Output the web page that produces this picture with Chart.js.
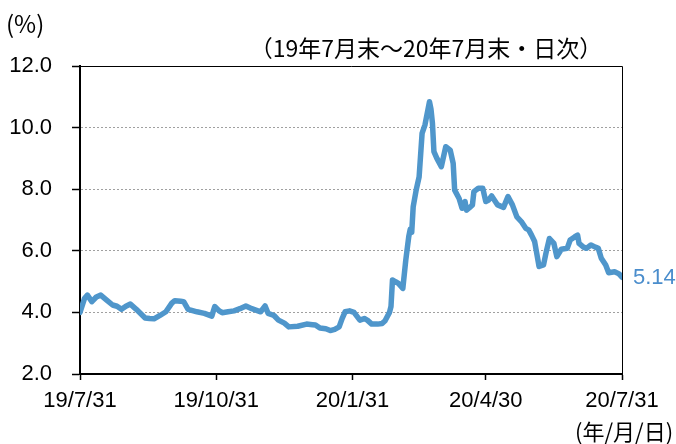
<!DOCTYPE html>
<html>
<head>
<meta charset="utf-8">
<script src="https://cdn.jsdelivr.net/npm/chart.js@4.4.0/dist/chart.umd.min.js"></script>
<style>
html, body { margin: 0; padding: 0; background: #fff; }
#wrap { width: 676px; height: 444px; }
</style>
</head>
<body>
<div id="wrap"><canvas id="yield"></canvas></div>
<script>
// days since 2019/7/31 and the value (%)
var days = [0, 3, 5, 8, 11, 14, 18, 22, 25, 28, 31, 34, 38, 44, 47, 50, 54, 58, 62, 64,
    68, 70, 73, 79, 84, 89, 91, 94, 96, 100, 104, 108, 112, 116, 122, 125, 127, 131, 134, 138,
    141, 147, 153, 157, 159, 162, 166, 169, 172, 175, 177, 179, 182, 185, 189, 192, 194, 197, 201, 204,
    206, 209, 210, 211, 213, 215, 218, 220, 222, 223, 224, 225, 227, 229, 231, 233, 236, 237, 238, 239,
    241, 244, 247, 250, 252, 253, 256, 258, 260, 261, 263, 265, 266, 269, 272, 274, 276, 278, 282, 286,
    289, 292, 295, 298, 301, 303, 305, 307, 308, 310, 313, 315, 317, 320, 322, 325, 329, 331, 334, 336,
    337, 340, 342, 345, 348, 350, 352, 355, 357, 361, 364, 366];
var values = [4.0, 4.45, 4.56, 4.35, 4.5, 4.56, 4.4, 4.24, 4.2, 4.1, 4.2, 4.27, 4.1, 3.82, 3.8, 3.79, 3.9, 4.02, 4.3, 4.38,
    4.36, 4.35, 4.1, 4.02, 3.97, 3.88, 4.19, 4.05, 3.99, 4.02, 4.05, 4.12, 4.21, 4.12, 4.02, 4.21, 3.97, 3.9, 3.75, 3.65,
    3.53, 3.55, 3.62, 3.6, 3.59, 3.49, 3.47, 3.41, 3.45, 3.53, 3.8, 4.02, 4.05, 4.0, 3.75, 3.8, 3.75, 3.62, 3.62, 3.64,
    3.73, 4.0, 4.19, 5.05, 5.0, 4.94, 4.78, 5.7, 6.46, 6.7, 6.6, 7.43, 7.97, 8.4, 9.81, 10.1, 10.84, 10.6, 10.14, 9.22,
    9.0, 8.73, 9.38, 9.27, 8.84, 7.97, 7.7, 7.38, 7.6, 7.32, 7.4, 7.49, 7.92, 8.03, 8.03, 7.6, 7.65, 7.78, 7.49, 7.41,
    7.76, 7.49, 7.1, 6.95, 6.73, 6.68, 6.5, 6.3, 6.03, 5.49, 5.54, 6.0, 6.4, 6.24, 5.81, 6.05, 6.08, 6.35, 6.45, 6.51,
    6.24, 6.12, 6.08, 6.19, 6.12, 6.08, 5.76, 5.54, 5.29, 5.32, 5.25, 5.14];

var tickDays = [0, 92, 184, 274, 366];
var tickLabels = ["19/7/31", "19/10/31", "20/1/31", "20/4/30", "20/7/31"];

var unitLabel = "(%)";
var subTitle = "（19年7月末～20年7月末・日次）";
var xUnitLabel = "(年/月/日)";

Chart.defaults.font.family = "'Liberation Sans', Arial, sans-serif";
Chart.defaults.color = "#000";

var lineColor = "#4f96cb";

var extras = {
    id: "extras",
    afterDraw: function (chart) {
        var c = chart.ctx, a = chart.chartArea;
        c.save();
        // top and right frame
        c.strokeStyle = "#000";
        c.lineWidth = 1;
        c.beginPath();
        c.moveTo(a.left, a.top + 0.5);
        c.lineTo(a.right + 0.5, a.top + 0.5);
        c.lineTo(a.right + 0.5, a.bottom);
        c.stroke();

        c.fillStyle = "#000";
        c.textBaseline = "middle";
        c.font = "24px 'Noto Sans CJK JP', sans-serif";
        c.textAlign = "left";
        c.fillText(unitLabel, 6, 24);

        c.font = "23px 'Noto Sans CJK JP', sans-serif";
        c.textAlign = "center";
        c.fillText(subTitle, 426, 48);
        c.textAlign = "left";
        c.font = "22px 'Noto Sans CJK JP', sans-serif";
        c.fillText(xUnitLabel, 575, 432);

        // last value label
        var last = values[values.length - 1];
        var yy = chart.scales.y.getPixelForValue(last);
        c.fillStyle = "#4a8dcc";
        c.font = "22px 'Liberation Sans', Arial, sans-serif";
        c.fillText(last.toFixed(2), a.right + 11, yy + 1);
        c.restore();
    }
};

new Chart(document.getElementById("yield"), {
    type: "line",
    data: {
        datasets: [{
            data: days.map(function (d, i) { return { x: d, y: values[i] }; }),
            borderColor: lineColor,
            borderWidth: 5.5,
            pointRadius: 0,
            tension: 0,
            borderJoinStyle: "round",
            borderCapStyle: "round"
        }]
    },
    options: {
        responsive: true,
        maintainAspectRatio: false,
        animation: false,
        layout: { padding: { left: 0, top: 66, right: 54, bottom: 0 } },
        plugins: { legend: { display: false }, tooltip: { enabled: false } },
        scales: {
            x: {
                type: "linear",
                min: 0,
                max: 366,
                afterBuildTicks: function (scale) {
                    scale.ticks = tickDays.map(function (v) { return { value: v }; });
                },
                afterFit: function (scale) { scale.height = 70; },
                ticks: {
                    autoSkip: false,
                    maxRotation: 0,
                    padding: 8,
                    font: { size: 22 },
                    callback: function (v) { return tickLabels[tickDays.indexOf(v)]; }
                },
                grid: {
                    drawOnChartArea: false,
                    tickLength: 6,
                    tickColor: "#000",
                    tickWidth: 1.5
                },
                border: { display: true, color: "#000", width: 2 }
            },
            y: {
                min: 2,
                max: 12,
                afterFit: function (scale) { scale.width = 80; },
                ticks: {
                    stepSize: 2,
                    padding: 20,
                    font: { size: 22 },
                    callback: function (v) { return v.toFixed(1); }
                },
                grid: {
                    color: function (ctx) {
                        var v = ctx.tick ? ctx.tick.value : 0;
                        return (v === 2 || v === 12) ? "rgba(0,0,0,0)" : "#a0a0a0";
                    },
                    lineWidth: 1,
                    tickLength: 8,
                    tickColor: "#000",
                    tickWidth: 1.5,
                    tickBorderDash: []
                },
                border: { display: true, color: "#000", width: 2, dash: [2, 2] }
            }
        }
    },
    plugins: [extras]
});
</script>
</body>
</html>
